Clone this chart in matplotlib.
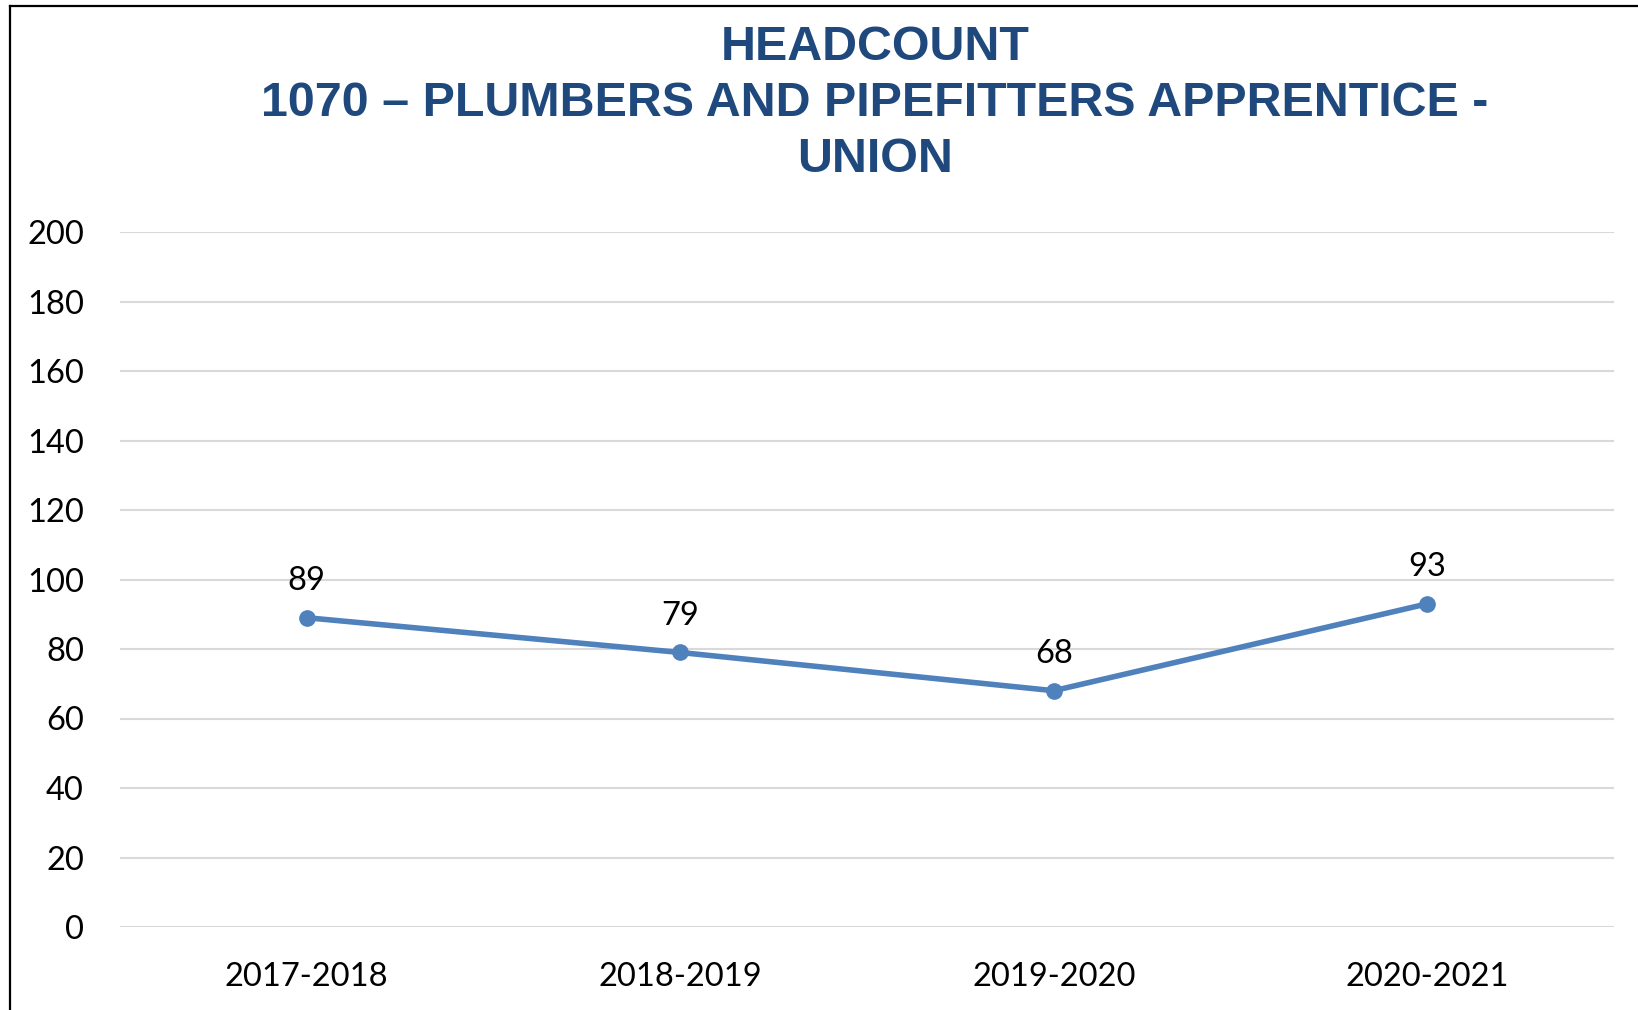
import matplotlib.pyplot as plt
from matplotlib.lines import Line2D

# Chart data
years = ["2017-2018", "2018-2019", "2019-2020", "2020-2021"]
headcount = [89, 79, 68, 93]
y_ticks = [0, 20, 40, 60, 80, 100, 120, 140, 160, 180, 200]

title_lines = ["HEADCOUNT", "1070 \u2013 PLUMBERS AND PIPEFITTERS APPRENTICE -", "UNION"]

W, H = 1638, 1010
fig = plt.figure(figsize=(W / 100, H / 100), dpi=100)
fig.patch.set_facecolor("white")

# Plot area
ax = fig.add_axes([120 / W, 1 - 927 / H, (1614 - 120) / W, (927 - 232) / H])
x = list(range(len(years)))
ax.plot(x, headcount, color="#4F81BD", linewidth=4, marker="o", markersize=11,
        solid_capstyle="round", zorder=3)

for xi, v in zip(x, headcount):
    ax.annotate(str(v), (xi, v), xytext=(0, 26.5), textcoords="offset points",
                ha="center", va="center", fontsize=23.5, family="Lato", color="black")

ax.set_xlim(-0.5, len(years) - 0.5)
ax.set_ylim(0, 200)
ax.set_yticks(y_ticks)
ax.set_xticks(x)
ax.set_xticklabels(years)
ax.yaxis.grid(True, color="#D9D9D9", linewidth=1.5)
ax.set_axisbelow(True)
for s in ax.spines.values():
    s.set_visible(False)
ax.tick_params(axis="both", length=0, labelsize=23.5)
ax.tick_params(axis="y", pad=26)
ax.tick_params(axis="x", pad=25.5)
for lab in ax.get_xticklabels() + ax.get_yticklabels():
    lab.set_family("Lato")

# Title, three centred lines
for i, line in enumerate(title_lines):
    fig.text(875 / W, 1 - (48 + 55.5 * i) / H, line, ha="center", va="center",
             fontsize=34.8, fontweight="bold", family="Liberation Sans", color="#1F497D")

# Outer frame (left and top edges)
fig.add_artist(Line2D([10 / W, 10 / W], [0, 1 - 6 / H], color="black", linewidth=1.6,
                      transform=fig.transFigure))
fig.add_artist(Line2D([10 / W, 1], [1 - 6 / H, 1 - 6 / H], color="black", linewidth=1.6,
                      transform=fig.transFigure))

fig.savefig("out.png", dpi=100)
